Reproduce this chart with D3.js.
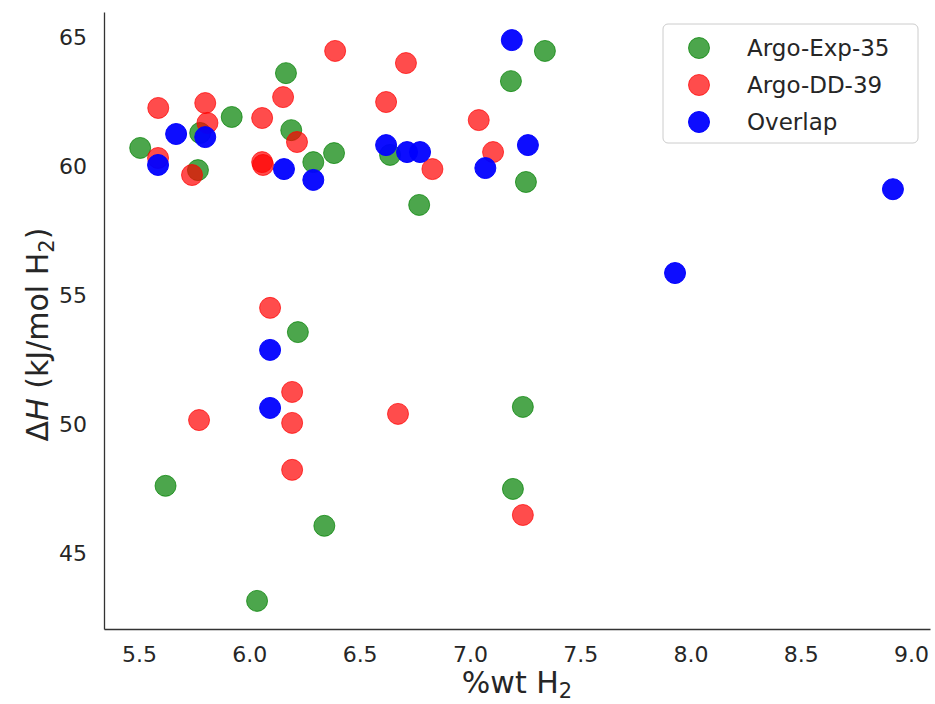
<!DOCTYPE html>
<html>
<head>
<meta charset="utf-8">
<script src="https://cdn.jsdelivr.net/npm/d3@7"></script>
<style>
  body { margin: 0; background: #fff; }
  text { font-family: "DejaVu Sans", sans-serif; fill: #262626; }
</style>
</head>
<body>
<svg id="chart" width="935" height="704"></svg>
<script>
// Argo-Exp-35 (green)
var expX = [5.505, 5.62, 5.777, 5.767, 5.92, 6.166, 6.19, 6.29, 6.384, 6.638, 6.77, 7.186, 7.34, 7.254,
            6.22, 7.24, 7.195, 6.34, 6.035];
var expY = [60.72, 47.62, 61.30, 59.86, 61.92, 63.62, 61.41, 60.17, 60.52, 60.45, 58.51, 63.31, 64.48, 59.40,
            53.58, 50.68, 47.50, 46.07, 43.16];

// Argo-DD-39 (red)
var ddX = [5.587, 5.80, 5.81, 5.586, 5.74, 6.058, 6.058, 6.062, 6.153, 6.216, 6.389, 6.71, 6.62, 6.83, 7.04, 7.105,
           6.094, 6.194, 6.194, 5.772, 6.674, 6.194, 7.24];
var ddY = [62.27, 62.46, 61.69, 60.33, 59.67, 61.88, 60.17, 60.06, 62.69, 60.95, 64.48, 64.01, 62.50, 59.90, 61.80, 60.56,
           54.52, 51.26, 50.06, 50.17, 50.41, 48.24, 46.49];

// Overlap (blue)
var ovX = [5.668, 5.80, 5.586, 6.157, 7.19, 6.29, 6.62, 6.715, 6.774, 7.07, 7.263, 8.918, 7.93, 6.094, 6.094];
var ovY = [61.26, 61.14, 60.06, 59.90, 64.90, 59.48, 60.83, 60.56, 60.56, 59.94, 60.83, 59.12, 55.87, 52.89, 50.64];

var xTicks = [5.5, 6.0, 6.5, 7.0, 7.5, 8.0, 8.5, 9.0];
var yTicks = [45, 50, 55, 60, 65];
var xLimits = [5.341, 9.086];
var yLimits = [42.07, 65.99];

var seriesNames = ['Argo-Exp-35', 'Argo-DD-39', 'Overlap'];
var seriesColors = ['green', 'red', 'blue'];
var seriesAlpha = [0.7, 0.7, 0.95];

var margin = { top: 12, right: 5, bottom: 75, left: 104 };
var svg = d3.select('#chart');
var width = +svg.attr('width') - margin.left - margin.right;
var height = +svg.attr('height') - margin.top - margin.bottom;

var x = d3.scaleLinear().domain(xLimits).range([0, width]);
var y = d3.scaleLinear().domain(yLimits).range([height, 0]);

var g = svg.append('g').attr('transform', 'translate(' + margin.left + ',' + margin.top + ')');

// axes, seaborn white style: no tick marks, left + bottom spines only
var xAxis = g.append('g')
  .attr('transform', 'translate(0,' + height + ')')
  .call(d3.axisBottom(x).tickValues(xTicks).tickFormat(d3.format('.1f')).tickSize(0).tickPadding(17));
var yAxis = g.append('g')
  .call(d3.axisLeft(y).tickValues(yTicks).tickFormat(d3.format('d')).tickSize(0).tickPadding(17));

[xAxis, yAxis].forEach(a => {
  a.select('.domain').attr('stroke', '#333').attr('stroke-width', 1.3);
  a.selectAll('text').attr('font-size', 22).attr('fill', '#262626').attr('font-family', '"DejaVu Sans", sans-serif');
});

var series = [
  d3.zip(expX, expY),
  d3.zip(ddX, ddY),
  d3.zip(ovX, ovY)
];

series.forEach((pts, i) => {
  g.append('g')
    .selectAll('circle')
    .data(pts)
    .enter().append('circle')
      .attr('cx', d => x(d[0]))
      .attr('cy', d => y(d[1]))
      .attr('r', 10.5)
      .attr('fill', seriesColors[i])
      .attr('fill-opacity', seriesAlpha[i])
      .attr('stroke', seriesColors[i])
      .attr('stroke-opacity', seriesAlpha[i])
      .attr('stroke-width', 1);
});

// axis labels
var xl = svg.append('text')
  .attr('x', margin.left + width / 2)
  .attr('y', 693)
  .attr('text-anchor', 'middle')
  .attr('font-size', 30);
xl.append('tspan').text('%wt H');
xl.append('tspan').attr('font-size', 21).attr('dy', 5).text('2');

var yl = svg.append('text')
  .attr('transform', 'translate(48,' + (margin.top + height / 2 + 14) + ') rotate(-90)')
  .attr('text-anchor', 'middle')
  .attr('font-size', 30);
yl.append('tspan').text('\u0394');
yl.append('tspan').attr('font-style', 'italic').text('H');
yl.append('tspan').text(' (kJ/mol H');
yl.append('tspan').attr('font-size', 21).attr('dy', 6).text('2');
yl.append('tspan').attr('dy', -6).text(')');

// legend
var legend = g.append('g').attr('transform', 'translate(' + (width - 267) + ',12)');
legend.append('rect')
  .attr('width', 255).attr('height', 119).attr('rx', 5)
  .attr('fill', '#fff').attr('fill-opacity', 0.8)
  .attr('stroke', '#cccccc').attr('stroke-width', 1);
seriesNames.forEach((name, i) => {
  var row = legend.append('g').attr('transform', 'translate(0,' + (24 + i * 37) + ')');
  row.append('circle')
    .attr('cx', 36).attr('r', 10.5)
    .attr('fill', seriesColors[i]).attr('fill-opacity', seriesAlpha[i])
    .attr('stroke', seriesColors[i]).attr('stroke-opacity', seriesAlpha[i]);
  row.append('text')
    .attr('x', 84).attr('dy', '0.36em')
    .attr('font-size', 23)
    .text(name);
});
</script>
</body>
</html>
